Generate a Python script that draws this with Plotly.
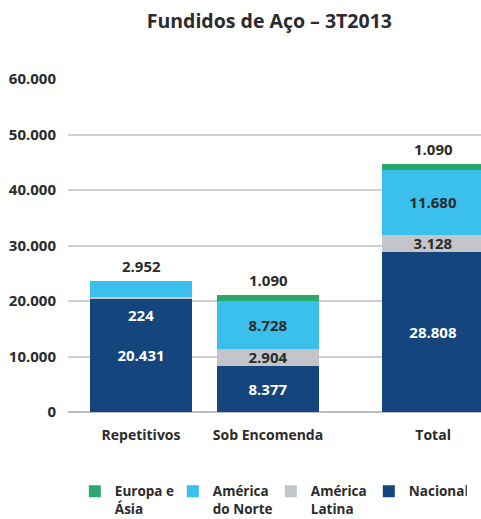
import plotly.graph_objects as go

# ---- data ----
categories = ["Repetitivos", "Sob Encomenda", "Total"]
cat_pos = [0, 1, 2.3]  # uneven spacing of the original layout
nacional = [20431, 8377, 28808]
america_latina = [224, 2904, 3128]
america_norte = [2952, 8728, 11680]
europa_asia = [0, 1090, 1090]

series_names = ["Nacional", "América<br>Latina", "América<br>do Norte", "Europa e<br>Ásia"]
series_colors = ["#14457c", "#c2c6cb", "#3bbfec", "#2aa76c"]
label_colors = ["#ffffff", "#2b2b2b", "#2b2b2b", "#2b2b2b"]

FONT = "Open Sans"
DARK = "#2b2b2b"


def fmt(v):
    return f"{v:,}".replace(",", ".")


series = [nacional, america_latina, america_norte, europa_asia]
fig = go.Figure()
for i, (vals, name, col, lc) in enumerate(zip(series, series_names, series_colors, label_colors)):
    texts = []
    for j, v in enumerate(vals):
        # labels that sit above or are displaced are drawn as annotations below
        if i == 3 or v == 0:
            texts.append("")
        elif j == 0 and i in (1, 2):
            texts.append("")
        else:
            texts.append(fmt(v))
    fig.add_trace(go.Bar(
        x=cat_pos, y=vals, name=name, marker=dict(color=col, line=dict(width=0)),
        text=texts, textposition="inside", insidetextanchor="middle", constraintext="none",
        textfont=dict(family=FONT, size=15, color=lc, weight="bold"),
        width=0.8, cliponaxis=False,
    ))

annotations = []
# labels above the stacks (top non-zero segment)
for j in range(len(categories)):
    total = nacional[j] + america_latina[j] + america_norte[j] + europa_asia[j]
    top_val = europa_asia[j] if europa_asia[j] else america_norte[j]
    annotations.append(dict(x=cat_pos[j], y=total, text=fmt(top_val), showarrow=False,
                            yanchor="bottom", yshift=3,
                            font=dict(family=FONT, size=15, color=DARK, weight="bold")))
# small América Latina value of Repetitivos shown just below its segment
annotations.append(dict(x=cat_pos[0], y=nacional[0], text=fmt(america_latina[0]), showarrow=False,
                        yanchor="top", yshift=-4,
                        font=dict(family=FONT, size=15, color="#ffffff", weight="bold")))

fig.update_layout(
    width=481, height=519,
    margin=dict(l=68, r=0, t=79, b=107, autoexpand=False),
    paper_bgcolor="white", plot_bgcolor="white",
    barmode="stack", bargap=0.2,
    title=dict(text="Fundidos de Aço – 3T2013", x=0.56, xanchor="center", y=0.96, yanchor="middle",
               font=dict(family=FONT, size=19.5, color=DARK, weight="bold")),
    font=dict(family=FONT, color=DARK),
    showlegend=True,
    legend=dict(orientation="h", traceorder="reversed", x=0.0165, xanchor="left", y=-0.192, yanchor="top",
                font=dict(family=FONT, size=13.5, color=DARK, weight="bold"),
                valign="top", entrywidth=53, entrywidthmode="pixels", itemwidth=30,
                bgcolor="rgba(0,0,0,0)"),
    annotations=annotations,
)
fig.update_yaxes(range=[0, 60000], tickvals=[0, 10000, 20000, 30000, 40000, 50000, 60000],
                 ticktext=[fmt(v) for v in [0, 10000, 20000, 30000, 40000, 50000, 60000]],
                 showgrid=True, gridcolor="#cfcfcf", gridwidth=1.5, zeroline=True, zerolinecolor="#bdbdbd",
                 zerolinewidth=1.5, showline=False, ticks="", ticklabelstandoff=11,
                 tickfont=dict(family=FONT, size=15, color=DARK, weight="bold"))
fig.update_xaxes(range=[-0.575, 2.677], tickvals=cat_pos, ticktext=categories, showgrid=False,
                 zeroline=False, showline=False, ticks="", ticklabelstandoff=13,
                 tickfont=dict(family=FONT, size=14, color=DARK, weight="bold"))

fig.write_html("out.html", config={"displayModeBar": False},
               post_script="document.body.style.margin='0';")
